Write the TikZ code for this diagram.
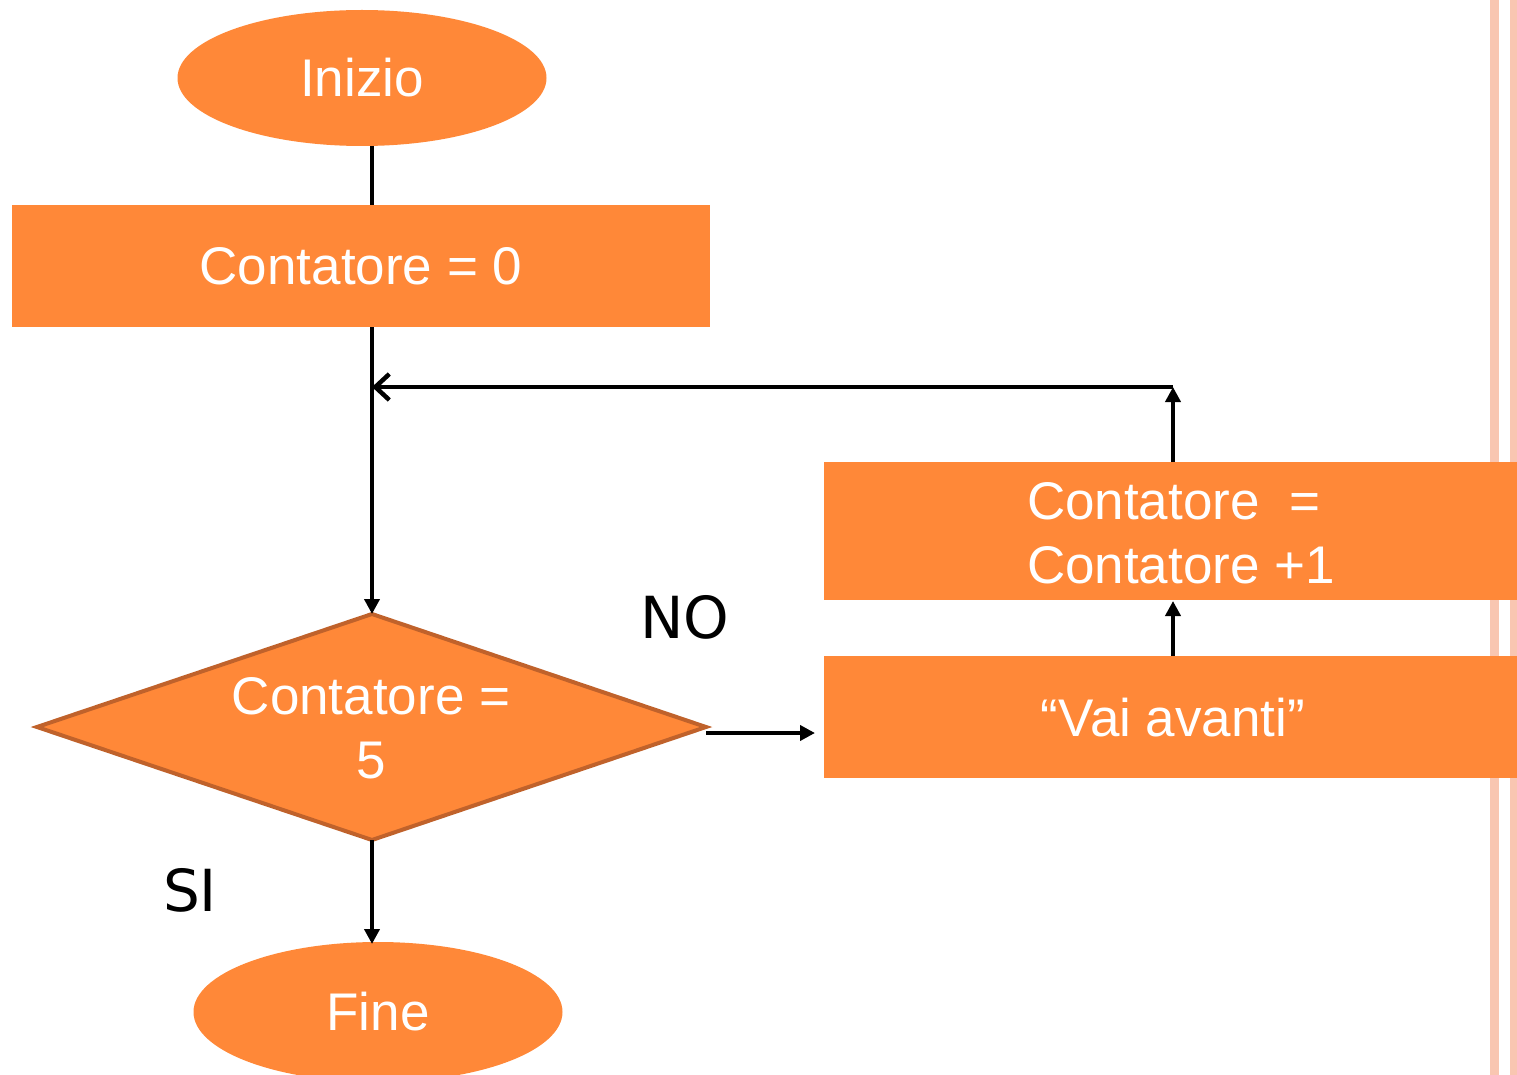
\documentclass[tikz,border=0pt]{standalone}
\usepackage{fontspec}
\setmainfont{Liberation Sans}
\newfontfamily\handfont{DejaVu Sans}
\usetikzlibrary{arrows.meta,shapes.geometric}
\definecolor{boxor}{HTML}{FF8838}
\definecolor{diaedge}{HTML}{C0622B}
\definecolor{stripe}{HTML}{F9C6B1}
\tikzset{
  every node/.style={inner sep=0pt, outer sep=0pt},
  bigtxt/.style={text=white, font=\fontsize{53}{64}\selectfont},
  termnode/.style={ellipse, fill=boxor, bigtxt},
  procbox/.style={rectangle, fill=boxor, bigtxt},
  decnode/.style={diamond, fill=boxor, draw=diaedge, line width=4pt, bigtxt, align=center},
  conn/.style={line width=4.5pt, -{Triangle[length=15pt,width=15pt]}},
  plain/.style={line width=4.5pt},
  openconn/.style={line width=4.5pt, -{Straight Barb[length=14pt,width=26pt,line width=4.5pt]}},
  answer/.style={font=\handfont\fontsize{58}{64}\selectfont, text=black}
}
\begin{document}
\begin{tikzpicture}[x=1pt,y=-1pt]
\useasboundingbox (0,0) rectangle (1517,1075);
% decorative stripes at the right edge
\fill[stripe] (1490,0) rectangle (1499,1075);
\fill[stripe] (1510,0) rectangle (1517,1075);

% nodes
\node[termnode, minimum width=369pt, minimum height=136pt] (inizio) at (362,78) {Inizio};
\node[procbox, minimum width=698pt, minimum height=122pt] (init) at (361,266) {Contatore = 0};
\draw[decnode] (37,727) -- (372,614) -- (706,727) -- (372,840) -- cycle;
\coordinate (dtop) at (372,614);
\coordinate (dright) at (706,733);
\coordinate (dbottom) at (372,840);
\node[bigtxt, align=center] (dtext) at (371,728) {Contatore =\\5};
\node[procbox, minimum width=693pt, minimum height=122pt] (vai) at (1170.5,717) {};
\node[bigtxt] (vaitext) at (1173,718) {“Vai avanti”};
\node[procbox, minimum width=693pt, minimum height=138pt] (incr) at (1170.5,531) {};
\node[bigtxt, align=left, anchor=west] (incrtext) at (1027,533) {Contatore \;=\\Contatore +1};
\node[termnode, minimum width=369pt, minimum height=140pt] (fine) at (378,1012) {Fine};
\node[answer] (no) at (685,617) {NO};
\node[answer] (si) at (190,890) {SI};

% connector coordinates
\coordinate (a1) at (372,146);
\coordinate (a2) at (372,205);
\coordinate (b1) at (372,327);
\coordinate (c2) at (815,733);
\coordinate (v1) at (1173,656);
\coordinate (v2) at (1173,601);
\coordinate (u1) at (1173,462);
\coordinate (u2) at (1173,387);
\coordinate (m) at (372,387);
\coordinate (f2) at (372,944);

% connectors
\draw[plain] (a1) -- (a2);
\draw[conn] (b1) -- (dtop);
\draw[conn] (dright) -- (c2);
\draw[conn] (v1) -- (v2);
\draw[conn] (u1) -- (u2);
\draw[openconn] (u2) -- (m);
\draw[conn] (dbottom) -- (f2);
\end{tikzpicture}
\end{document}
